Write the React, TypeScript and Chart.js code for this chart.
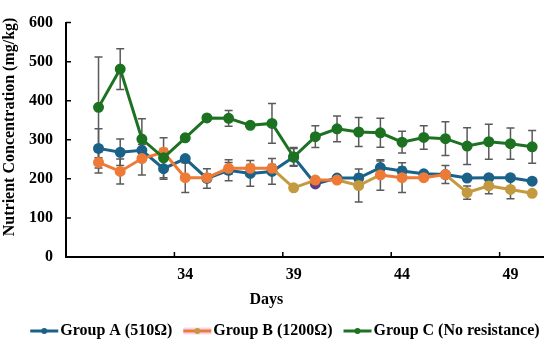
import React, { useEffect, useRef } from "react";
import { Chart, registerables } from "chart.js";

Chart.register(...registerables);

const days = ["29", "30", "31", "32", "33", "34", "35", "36", "37", "38", "39", "40", "41", "42", "43", "44", "45", "46", "47", "48", "49", "50"];
const shownDayLabels = ["34", "39", "44", "49"];
const yTicks = [0, 100, 200, 300, 400, 500, 600];
const xTitle = "Days";
const yTitle = "Nutrient Concentration (mg/kg)";
const seriesNames = ["Group A (510Ω)", "Group B (1200Ω)", "Group C (No resistance)"];

const groupA = [null, 278, 268, 273, 226, 252, 201, 222, 214, 219, 256, 187, 202, 202, 229, 220, 213, 211, 202, 203, 203, 194];
const groupAErr = [0, 50, 34, 15, 27, 0, 25, 27, 33, 33, 22, 0, 0, 10, 17, 10, 0, 0, 0, 0, 0, 0];

const groupB = [null, 242, 219, 252, 268, 203, 203, 227, 227, 227, 177, 197, 197, 183, 210, 203, 203, 211, 165, 182, 173, 163];
const groupBErr = [0, 27, 32, 42, 10, 38, 10, 15, 10, 10, 0, 0, 0, 42, 39, 38, 0, 23, 17, 20, 24, 0];

const groupC = [null, 383, 481, 302, 254, 305, 356, 355, 337, 342, 256, 308, 328, 320, 318, 294, 306, 303, 284, 295, 290, 282];
const groupCErr = [0, 129, 52, 52, 51, 0, 0, 20, 0, 51, 24, 28, 33, 37, 37, 28, 30, 43, 47, 45, 40, 42];

const goldDaysB = ["39", "42", "47", "48", "49", "50"];
const purpleDaysA = ["40"];

const BLUE = "#1b6289";
const ORANGE = "#ee7a36";
const GREEN = "#1d7222";
const GOLD = "#c49a3e";
const PURPLE = "#5b3c88";
const PINK = "#f6d6ee";
const ERR = "#5a5a5a";
const FONT = "'Liberation Serif', 'Times New Roman', serif";

const legendStyles = [
  { line: BLUE, dot: BLUE, halo: "" },
  { line: ORANGE, dot: GOLD, halo: PINK },
  { line: GREEN, dot: GREEN, halo: "" },
];

const errorBarPlugin = {
  id: "errorBars",
  beforeDatasetsDraw(chart: any) {
    const { ctx } = chart;
    const y = chart.scales.y;
    const errs = [groupAErr, groupBErr, groupCErr];
    ctx.save();
    ctx.strokeStyle = ERR;
    ctx.lineWidth = 1.5;
    chart.data.datasets.forEach((ds: any, i: number) => {
      const meta = chart.getDatasetMeta(i);
      ds.data.forEach((v: number | null, j: number) => {
        const e = errs[i][j];
        if (v == null || !e) return;
        const x = meta.data[j].x;
        const yt = y.getPixelForValue(v + e);
        const yb = y.getPixelForValue(v - e);
        ctx.beginPath();
        ctx.moveTo(x, yt);
        ctx.lineTo(x, yb);
        ctx.moveTo(x - 4, yt);
        ctx.lineTo(x + 4, yt);
        ctx.moveTo(x - 4, yb);
        ctx.lineTo(x + 4, yb);
        ctx.stroke();
      });
    });
    ctx.restore();
  },
};

const decorPlugin = {
  id: "decor",
  afterDraw(chart: any) {
    const { ctx, chartArea } = chart;
    const x = chart.scales.x;
    const y = chart.scales.y;
    ctx.save();
    ctx.strokeStyle = "#000";
    ctx.lineWidth = 1.5;
    ctx.beginPath();
    yTicks.forEach((t) => {
      const py = y.getPixelForValue(t);
      ctx.moveTo(chartArea.left, py);
      ctx.lineTo(chartArea.left + 5, py);
    });
    const half = (x.getPixelForValue(1) - x.getPixelForValue(0)) / 2;
    shownDayLabels.forEach((d) => {
      const px = x.getPixelForValue(days.indexOf(d)) - half;
      ctx.moveTo(px, chartArea.bottom);
      ctx.lineTo(px, chartArea.bottom - 5);
    });
    ctx.stroke();

    ctx.fillStyle = "#000";
    ctx.font = `bold 16px ${FONT}`;
    ctx.textAlign = "center";
    ctx.textBaseline = "middle";
    ctx.fillText(xTitle, chartArea.left + chartArea.width * 0.42, chartArea.bottom + 43);
    ctx.save();
    ctx.translate(10, chartArea.top + chartArea.height * 0.445);
    ctx.rotate(-Math.PI / 2);
    ctx.fillText(yTitle, 0, 0);
    ctx.restore();

    // legend
    const lineW = 28;
    const textGap = 2;
    const itemGap = 11;
    const widths = seriesNames.map((n) => lineW + textGap + ctx.measureText(n).width);
    const total = widths.reduce((a, b) => a + b, 0) + itemGap * (seriesNames.length - 1);
    let lx = chart.width * 0.518 - total / 2;
    const ly = chartArea.bottom + 74;
    ctx.textAlign = "left";
    seriesNames.forEach((n, i) => {
      const st = legendStyles[i];
      ctx.lineCap = "butt";
      if (st.halo) {
        ctx.strokeStyle = st.halo;
        ctx.lineWidth = 7;
        ctx.beginPath();
        ctx.moveTo(lx, ly);
        ctx.lineTo(lx + lineW, ly);
        ctx.stroke();
      }
      ctx.strokeStyle = st.line;
      ctx.lineWidth = 3;
      ctx.beginPath();
      ctx.moveTo(lx, ly);
      ctx.lineTo(lx + lineW, ly);
      ctx.stroke();
      ctx.fillStyle = st.dot;
      ctx.beginPath();
      ctx.arc(lx + lineW / 2, ly, 3, 0, Math.PI * 2);
      ctx.fill();
      ctx.fillStyle = "#000";
      ctx.fillText(n, lx + lineW + textGap, ly);
      lx += widths[i] + itemGap;
    });
    ctx.restore();
  },
};

export default function App() {
  const ref = useRef<HTMLCanvasElement>(null);

  useEffect(() => {
    document.body.style.margin = "0";
    const canvas = ref.current!;
    const chart = new Chart(canvas, {
      type: "line",
      data: {
        labels: days,
        datasets: [
          {
            label: seriesNames[0],
            data: groupA,
            borderColor: BLUE,
            backgroundColor: BLUE,
            pointBackgroundColor: days.map((d) => (purpleDaysA.includes(d) ? PURPLE : BLUE)),
            pointBorderColor: days.map((d) => (purpleDaysA.includes(d) ? PURPLE : BLUE)),
            borderWidth: 3,
            pointRadius: 4,
            order: 3,
          },
          {
            label: seriesNames[1],
            data: groupB,
            borderColor: ORANGE,
            backgroundColor: ORANGE,
            pointBackgroundColor: days.map((d) => (goldDaysB.includes(d) ? GOLD : ORANGE)),
            pointBorderColor: days.map((d) => (goldDaysB.includes(d) ? GOLD : ORANGE)),
            segment: {
              borderColor: (c: any) =>
                goldDaysB.includes(days[c.p0DataIndex]) || goldDaysB.includes(days[c.p1DataIndex]) ? GOLD : ORANGE,
            },
            borderWidth: 3,
            pointRadius: 4,
            order: 2,
          },
          {
            label: seriesNames[2],
            data: groupC,
            borderColor: GREEN,
            backgroundColor: GREEN,
            borderWidth: 3,
            pointRadius: 4,
            order: 1,
          },
        ],
      },
      options: {
        responsive: false,
        animation: false,
        layout: { padding: { top: 8, right: 2, left: 0, bottom: 37 } },
        scales: {
          x: {
            type: "category",
            offset: true,
            grid: { display: false, drawTicks: false },
            border: { display: true, color: "#000", width: 2 },
            ticks: {
              autoSkip: false,
              maxRotation: 0,
              padding: 8,
              color: "#000",
              font: { family: FONT, size: 16, weight: "bold" },
              callback: (_v: any, i: number) => (shownDayLabels.includes(days[i]) ? days[i] : ""),
            },
            afterFit: (s: any) => {
              s.height = 52;
            },
          },
          y: {
            min: 0,
            max: 600,
            grid: { display: false, drawTicks: false },
            border: { display: true, color: "#000", width: 2 },
            ticks: {
              stepSize: 100,
              padding: 13,
              color: "#000",
              font: { family: FONT, size: 16, weight: "bold" },
            },
            afterFit: (s: any) => {
              s.width = 66;
            },
          },
        },
        plugins: {
          tooltip: { enabled: false },
          legend: { display: false },
        },
      },
      plugins: [errorBarPlugin, decorPlugin],
    });
    return () => chart.destroy();
  }, []);

  return (
    <div style={{ position: "absolute", left: 0, top: 0, width: 550, height: 346, background: "#fff" }}>
      <canvas ref={ref} width={550} height={346} />
    </div>
  );
}
